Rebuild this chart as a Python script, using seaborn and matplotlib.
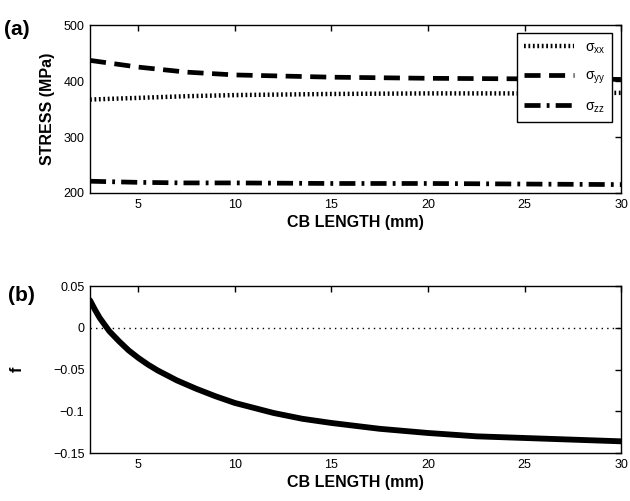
import numpy as np
import pandas as pd
import matplotlib
matplotlib.use("Agg")
import matplotlib.pyplot as plt
import seaborn as sns

# ---- data ----
cb_len = [2.5, 5, 7.5, 10, 15, 20, 25, 30]
sigma_xx = [367, 370, 373, 375, 377, 378, 378, 379]
sigma_yy = [437, 425, 416, 411, 407, 405, 404, 403]
sigma_zz = [221, 219, 218, 218, 217, 217, 216, 215]

f_len = [2.5, 2.75, 3, 3.5, 4, 4.5, 5, 5.5, 6, 7, 8, 9, 10, 11, 12, 13.5, 15,
         17.5, 20, 22.5, 25, 27.5, 30]
f_vals = [0.033, 0.022, 0.012, -0.004, -0.016, -0.027, -0.036, -0.044, -0.051,
          -0.063, -0.073, -0.082, -0.090, -0.096, -0.102, -0.109, -0.114,
          -0.121, -0.126, -0.130, -0.132, -0.134, -0.136]

sns.set_theme(style="white")
plt.rcParams['font.family'] = ['Liberation Sans', 'DejaVu Sans']
plt.rcParams['mathtext.fontset'] = 'custom'
plt.rcParams['mathtext.rm'] = 'Liberation Sans'
plt.rcParams['mathtext.it'] = 'Liberation Sans'
for k in ['text.color', 'axes.labelcolor', 'xtick.color', 'ytick.color']:
    plt.rcParams[k] = 'black'

fig = plt.figure(figsize=(6.3, 5.01), dpi=100)
ax1 = fig.add_axes([0.1429, 0.6148, 0.843, 0.335])
ax2 = fig.add_axes([0.1429, 0.0958, 0.843, 0.333])

df = pd.DataFrame({"x": cb_len, "xx": sigma_xx, "yy": sigma_yy, "zz": sigma_zz})
sns.lineplot(data=df, x="x", y="xx", ax=ax1, color="black", lw=3.2,
             linestyle=(0, (0.4, 0.6)), label=r"$\sigma_{xx}$")
sns.lineplot(data=df, x="x", y="yy", ax=ax1, color="black", lw=3.4,
             linestyle=(0, (3.4, 1.8)), label=r"$\sigma_{yy}$")
sns.lineplot(data=df, x="x", y="zz", ax=ax1, color="black", lw=3.4,
             linestyle=(0, (3.4, 1.3, 0.6, 1.3)), label=r"$\sigma_{zz}$")

dff = pd.DataFrame({"x": f_len, "f": f_vals})
sns.lineplot(data=dff, x="x", y="f", ax=ax2, color="black", lw=4.2)
ax2.axhline(0, color="black", lw=1, linestyle=(0, (1, 3)))

ax1.set_xlim(2.5, 30)
ax1.set_ylim(200, 500)
ax1.set_yticks([200, 300, 400, 500])
ax2.set_xlim(2.5, 30)
ax2.set_ylim(-0.15, 0.05)
ax2.set_yticks([-0.15, -0.1, -0.05, 0, 0.05])
ax2.set_yticklabels(["\u22120.15", "\u22120.1", "\u22120.05", "0", "0.05"])

for ax in (ax1, ax2):
    ax.set_xticks([5, 10, 15, 20, 25, 30])
    ax.tick_params(direction="in", length=4, width=1, top=True, right=True,
                   labelsize=9, pad=4, colors="black")
    for s in ax.spines.values():
        s.set_color("black")
        s.set_linewidth(1)
    ax.set_xlabel("CB LENGTH (mm)", fontsize=11.5, fontweight="bold", labelpad=3)

ax1.set_ylabel("STRESS (MPa)", fontsize=11.5, fontweight="bold", labelpad=6)
ax2.set_ylabel("f", fontsize=11.5, fontweight="bold", labelpad=20)

leg = ax1.legend(loc="upper right", bbox_to_anchor=(0.983, 0.952), fontsize=10,
                 frameon=True, fancybox=False, edgecolor="black", framealpha=1,
                 handlelength=3.6, borderpad=0.5, labelspacing=0.95,
                 handletextpad=0.8, borderaxespad=0)
leg.get_frame().set_linewidth(1)

fig.text(0.006, 0.93, "(a)", fontsize=15, fontweight="bold")
fig.text(0.012, 0.4, "(b)", fontsize=15, fontweight="bold")

fig.savefig("out.png", dpi=100, facecolor="white")
